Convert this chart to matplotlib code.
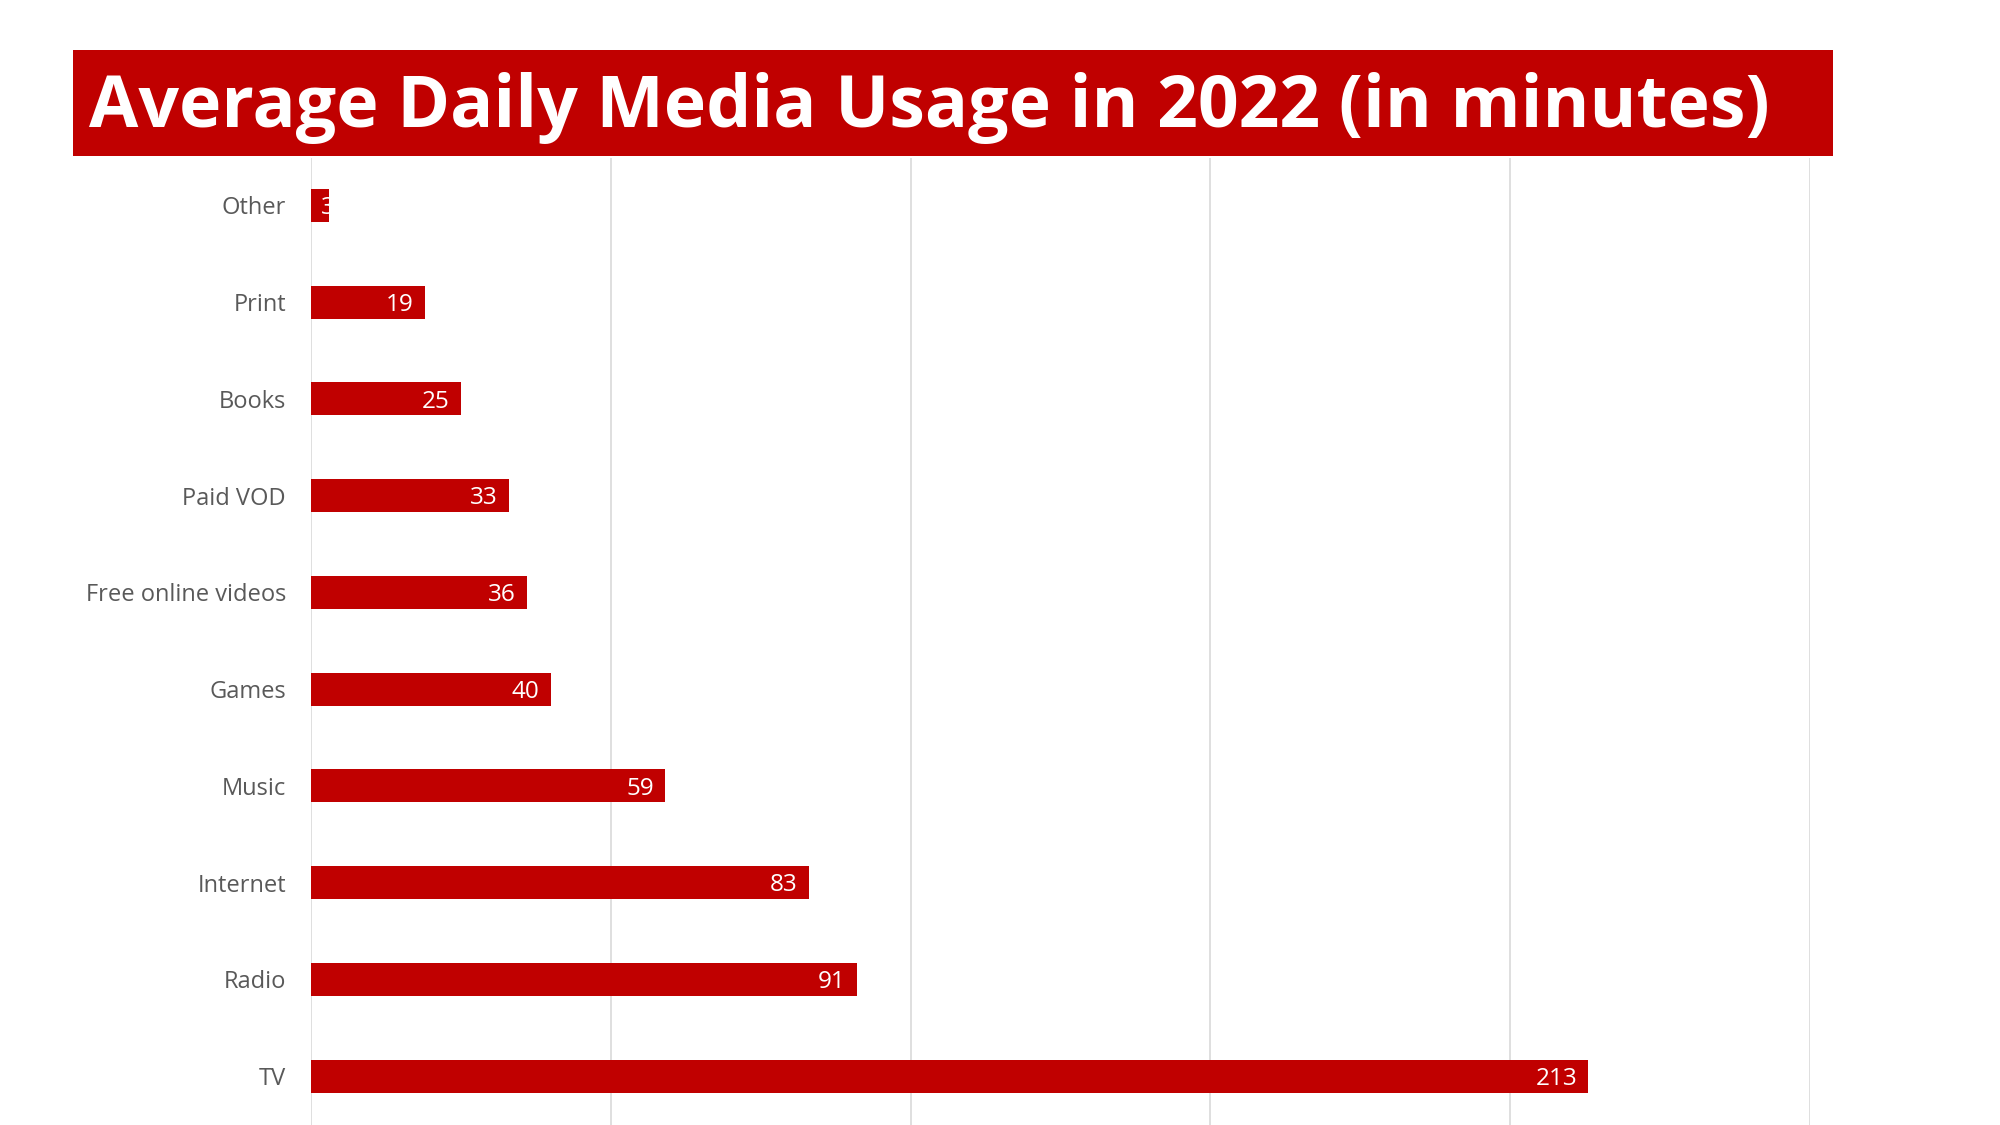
import matplotlib
matplotlib.use("Agg")
import matplotlib.pyplot as plt
from matplotlib.patches import Rectangle
from matplotlib.transforms import offset_copy

plt.rcParams['font.family'] = ['Open Sans', 'DejaVu Sans']

categories = ["Other", "Print", "Books", "Paid VOD", "Free online videos",
              "Games", "Music", "Internet", "Radio", "TV"]
minutes = [3, 19, 25, 33, 36, 40, 59, 83, 91, 213]
title = "Average Daily Media Usage in 2022 (in minutes)"

red = "#C00000"
grid_col = "#D9D9D9"
label_col = "#595959"

fig = plt.figure(figsize=(20, 11.25), dpi=100)

# title banner
fig.patches.append(Rectangle((0.0365, 0.861), 0.88, 0.0946, transform=fig.transFigure,
                             facecolor=red, edgecolor="none", zorder=0))
fig.text(0.0445, 0.8867, title, color="white", fontsize=51.5, fontweight="bold",
         va="baseline", ha="left")

ax = fig.add_axes([0.1555, 0.0, 0.7495, 0.8596])
ypos = list(range(len(categories)))
ax.barh(ypos, minutes, height=0.34, color=red, zorder=2)

ax.set_xlim(0, 250)
ax.set_ylim(9.505, -0.49)
ax.set_xticks([0, 50, 100, 150, 200, 250])
ax.set_xticklabels([])
ax.grid(axis="x", color=grid_col, linewidth=1.2, zorder=0)
ax.set_yticks(ypos)
ax.set_yticklabels(categories, fontsize=17, color=label_col)
ax.tick_params(axis="both", length=0)
ax.tick_params(axis="y", pad=18)
for s in ax.spines.values():
    s.set_visible(False)

for y, v in zip(ypos, minutes):
    if v < 10:
        tr = offset_copy(ax.transData, fig=fig, x=7, y=-2, units="points")
        ax.text(0, y, str(v), transform=tr, color="white", fontsize=17.5,
                ha="left", va="center", zorder=3)
    else:
        tr = offset_copy(ax.transData, fig=fig, x=-8, y=-2, units="points")
        ax.text(v, y, str(v), transform=tr, color="white", fontsize=17.5,
                ha="right", va="center", zorder=3)

fig.savefig("out.png", dpi=100)
